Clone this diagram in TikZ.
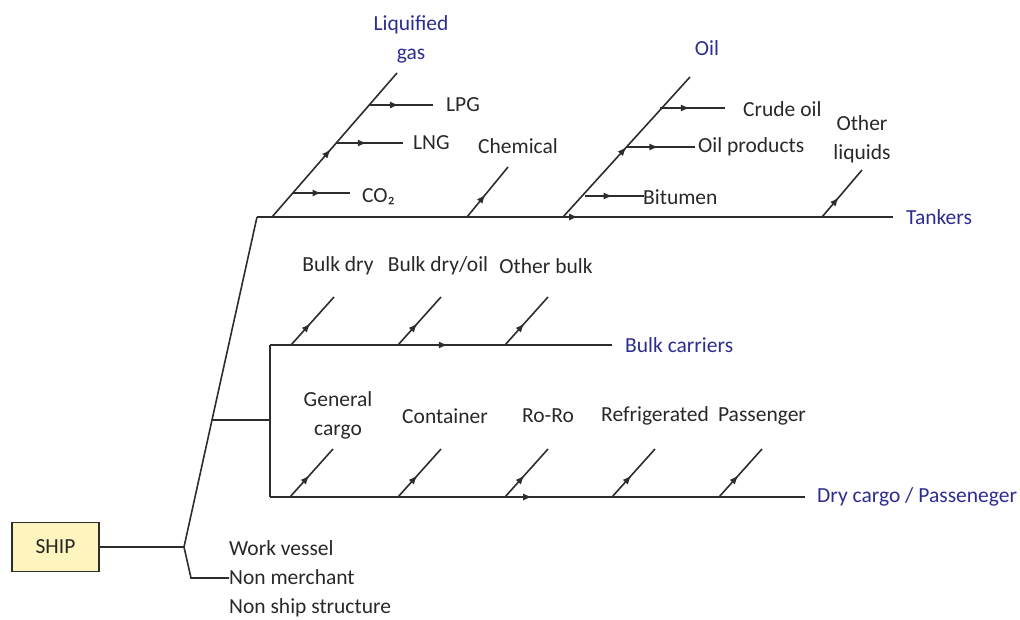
\documentclass[tikz,border=0pt]{standalone}
\usepackage{fontspec}
\setmainfont{Carlito}
\usetikzlibrary{arrows.meta,decorations.markings}
\definecolor{ln}{RGB}{45,45,45}
\definecolor{txt}{RGB}{40,40,40}
\definecolor{cat}{RGB}{45,45,145}
\definecolor{shipfill}{RGB}{253,244,190}
\tikzset{
  ln/.style={draw=ln,line width=1.6pt},
  midarr/.style={postaction={decorate},decoration={markings,mark=at position #1 with {\arrow{Latex[length=9pt,width=7pt]}}}},
  lbl/.style={text=txt,font=\fontsize{21.5}{29}\selectfont,inner sep=0pt,align=center},
  catlbl/.style={text=cat,font=\fontsize{21.5}{29}\selectfont,inner sep=0pt,align=center},
}
\begin{document}
\begin{tikzpicture}[x=1pt,y=-1pt]
\useasboundingbox (0,0) rectangle (1020,619);
% SHIP
\node[draw=ln,line width=1.6pt,fill=shipfill,minimum width=87pt,minimum height=49pt,inner sep=0pt,text=txt,font=\fontsize{21.5}{29}\selectfont] (ship) at (55.5,547) {SHIP};
% trunk coordinates
\coordinate (j0) at (184,547);
\coordinate (j1) at (212,420);
\coordinate (tk0) at (257,217);
\coordinate (tk1) at (893,217);
\coordinate (nm0) at (191,578);
\coordinate (nm1) at (229,578);
\coordinate (v0) at (270,345);
\coordinate (v1) at (270,497);
\coordinate (vm) at (270,420);
\coordinate (bk1) at (612,345);
\coordinate (dc1) at (805,497);
\draw[ln] (ship.east) -- (j0) -- (j1) -- (tk0);
\draw[ln] (j0) -- (nm0) -- (nm1);
\draw[ln] (j1) -- (vm);
\draw[ln] (v0) -- (v1);
\draw[ln,midarr=0.505] (tk0) -- (tk1);
\draw[ln,midarr=0.52] (v0) -- (bk1);
\draw[ln,midarr=0.49] (v1) -- (dc1);
% category labels
\node[catlbl,anchor=west] (tankers) at (906,217) {Tankers};
\node[catlbl,anchor=west] (bulk) at (625,345) {Bulk carriers};
\node[catlbl,anchor=west] (dry) at (817,497) {Dry cargo / Passeneger};
\node[lbl,anchor=west,align=left] (other) at (229,579) {Work vessel\\Non merchant\\Non ship structure};
% Liquified gas
\coordinate (lg0) at (272,217);
\coordinate (lg1) at (397,73);
\draw[ln,midarr=0.47] (lg0) -- (lg1);
\node[catlbl] (lgl) at (411,39) {Liquified\\gas};
\coordinate (co0) at (293,193); \coordinate (co1) at (350,193);
\coordinate (ln0) at (336,143); \coordinate (ln1) at (403,143);
\coordinate (lp0) at (370,105); \coordinate (lp1) at (433,105);
\draw[ln,midarr=0.5] (co0) -- (co1);
\draw[ln,midarr=0.46] (ln0) -- (ln1);
\draw[ln,midarr=0.46] (lp0) -- (lp1);
\node[lbl,anchor=west] (co2) at (362,197) {CO₂};
\node[lbl,anchor=west] (lng) at (413,143) {LNG};
\node[lbl,anchor=west] (lpg) at (446,105) {LPG};
% Chemical
\coordinate (ch0) at (467,217); \coordinate (ch1) at (508,167);
\draw[ln,midarr=0.45] (ch0) -- (ch1);
\node[lbl] (chem) at (518,146) {Chemical};
% Oil
\coordinate (oi0) at (563,217);
\coordinate (oi1) at (690,77);
\draw[ln,midarr=0.5] (oi0) -- (oi1);
\node[catlbl] (oil) at (707,48) {Oil};
\coordinate (bi0) at (585,196); \coordinate (bi1) at (644,196);
\coordinate (op0) at (626,147); \coordinate (op1) at (695,147);
\coordinate (cr0) at (660,108); \coordinate (cr1) at (725,108);
\draw[ln,midarr=0.47] (bi0) -- (bi1);
\draw[ln,midarr=0.47] (op0) -- (op1);
\draw[ln,midarr=0.46] (cr0) -- (cr1);
\node[lbl,anchor=west] (bit) at (643,197) {Bitumen};
\node[lbl,anchor=west] (opr) at (698,147) {Oil products};
\node[lbl,anchor=west] (cru) at (743,109) {Crude oil};
% Other liquids
\coordinate (ol0) at (822,217); \coordinate (ol1) at (862,170);
\draw[ln,midarr=0.42] (ol0) -- (ol1);
\node[lbl] (oliq) at (862,139) {Other\\liquids};
% Bulk
\foreach \x/\n in {291/bd,398/bdo,505/ob}{
  \coordinate (\n0) at (\x,345); \coordinate (\n1) at (\x+43,297);
  \draw[ln,midarr=0.45] (\n0) -- (\n1);
}
\node[lbl] (bdl) at (338,266) {Bulk dry};
\node[lbl] (bdol) at (438,266) {Bulk dry/oil};
\node[lbl] (obl) at (546,266) {Other bulk};
% Dry cargo
\foreach \x/\n in {290/gc,398/ct,505/rr,612/rf,719/ps}{
  \coordinate (\n0) at (\x,497); \coordinate (\n1) at (\x+43,449);
  \draw[ln,midarr=0.45] (\n0) -- (\n1);
}
\node[lbl] (gcl) at (338,415) {General\\cargo};
\node[lbl] (ctl) at (445,416) {Container};
\node[lbl] (rrl) at (548,416) {Ro-Ro};
\node[lbl] (rfl) at (655,416) {Refrigerated};
\node[lbl] (psl) at (762,416) {Passenger};
\end{tikzpicture}
\end{document}
